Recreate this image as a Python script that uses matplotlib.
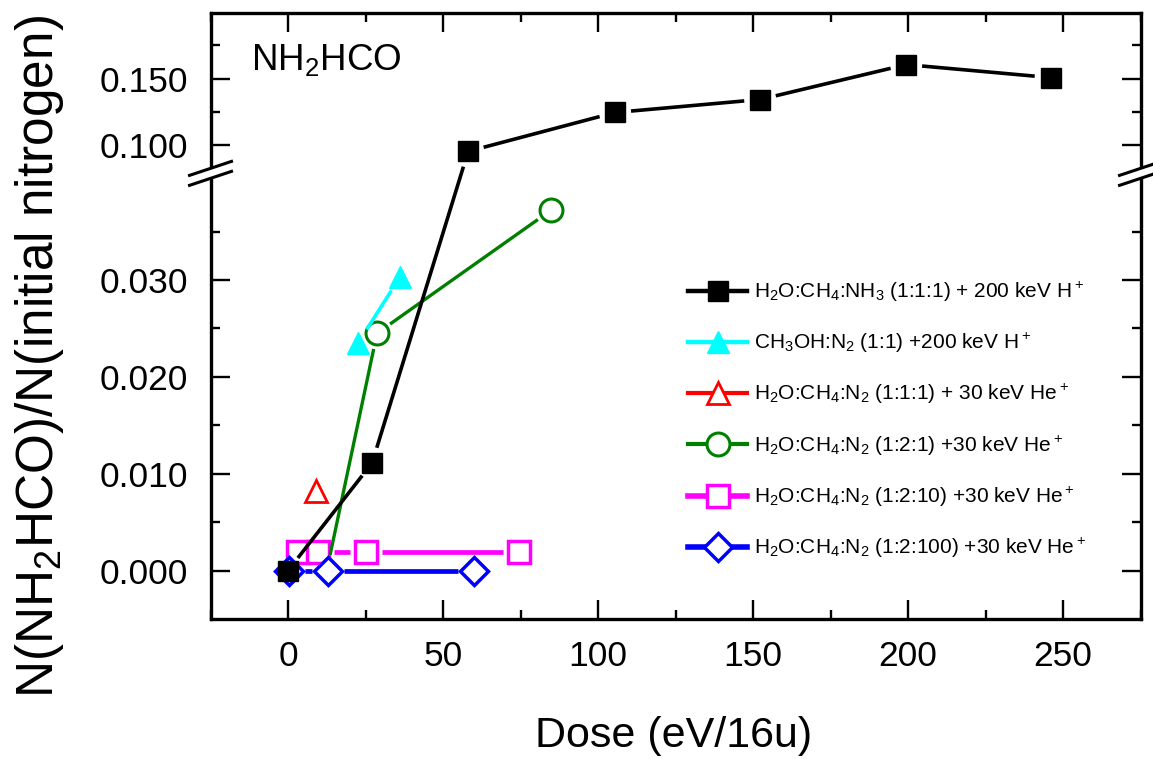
import numpy as np
import matplotlib
matplotlib.use('Agg')
import matplotlib.pyplot as plt
from matplotlib.lines import Line2D
from matplotlib.patches import Rectangle
from matplotlib.transforms import IdentityTransform

plt.rcParams['font.family'] = ['Liberation Sans', 'DejaVu Sans']
plt.rcParams['mathtext.default'] = 'regular'

# values (dose in eV/16u, NH2HCO fraction)
dose_nh3 = [0.0, 27.1, 58.1, 105.5, 152.3, 199.4, 246.0]
frac_nh3 = [0.0, 0.0111, 0.0955, 0.1246, 0.1343, 0.1604, 0.1507]
dose_ch3oh = [22.6, 36.1]
frac_ch3oh = [0.0235, 0.0303]
dose_111 = [9.0]
frac_111 = [0.0082]
dose_121 = [12.5, 28.7, 84.8]
frac_121 = [0.0, 0.0245, 0.0372]
dose_1210 = [3.2, 9.7, 25.2, 74.5]
frac_1210 = [0.0019, 0.0019, 0.0019, 0.0019]
dose_12100 = [0.3, 12.9, 60.0]
frac_12100 = [0.0, 0.0, 0.0]

labels = ['H$_2$O:CH$_4$:NH$_3$ (1:1:1) + 200 keV H$^+$',
          'CH$_3$OH:N$_2$ (1:1) +200 keV H$^+$',
          'H$_2$O:CH$_4$:N$_2$ (1:1:1) + 30 keV He$^+$',
          'H$_2$O:CH$_4$:N$_2$ (1:2:1) +30 keV He$^+$',
          'H$_2$O:CH$_4$:N$_2$ (1:2:10) +30 keV He$^+$',
          'H$_2$O:CH$_4$:N$_2$ (1:2:100) +30 keV He$^+$']

xticks = [0, 50, 100, 150, 200, 250]
yticks = [0.0, 0.01, 0.02, 0.03, 0.10, 0.15]
yticklabels = ['0.000', '0.010', '0.020', '0.030', '0.100', '0.150']
yminor = [0.005, 0.015, 0.025, 0.035, 0.125, 0.175]

# broken y axis: lower part up to YB1, upper part from YB2
YB1, YB2, GAP, R = 0.0405, 0.0828, 0.00103, 0.1381


def fwd(y):
    y = np.asarray(y, float)
    return np.where(y <= YB1, y,
                    np.where(y >= YB2, YB1 + GAP + (y - YB2) * R,
                             YB1 + (y - YB1) * GAP / (YB2 - YB1)))


def inv(t):
    t = np.asarray(t, float)
    return np.where(t <= YB1, t,
                    np.where(t >= YB1 + GAP, YB2 + (t - YB1 - GAP) / R,
                             YB1 + (t - YB1) * (YB2 - YB1) / GAP))


fig = plt.figure(figsize=(11.53, 7.59), dpi=100)
ax = fig.add_axes([0.1826, 0.1845, 0.8066, 0.7984])
ax.set_xlim(-25, 275)
ax.set_yscale('function', functions=(fwd, inv))
ax.set_ylim(-0.005, 0.199)


def draw_series(x, y, color, marker, ms, lw, mfc, mew, z, gap=16, markevery=None):
    # Origin style: line stops short of each symbol
    pts = ax.transData.transform(np.column_stack([x, y]))
    for p0, p1 in zip(pts[:-1], pts[1:]):
        d = p1 - p0
        L = np.hypot(d[0], d[1])
        if L <= 2 * gap:
            continue
        u = d / L
        seg = ax.transData.inverted().transform(np.array([p0 + u * gap, p1 - u * gap]))
        ax.plot(seg[:, 0], seg[:, 1], color=color, lw=lw, zorder=z, solid_capstyle='butt')
    ax.plot(x, y, ls='none', marker=marker, ms=ms, mfc=mfc, mec=color, mew=mew,
            markevery=markevery, zorder=z + 0.1)
    return Line2D([], [], color=color, lw=lw + 0.6, marker=marker, ms=ms, mfc=mfc, mec=color, mew=mew)


h_1210 = draw_series(dose_1210, frac_1210, 'magenta', 's', 15.3, 3.4, 'white', 2.5, 2.0)
# first green symbol sits under the blue diamond and is not visible
h_121 = draw_series(dose_121, frac_121, '#008000', 'o', 16.5, 2.4, 'white', 2.2, 2.2, markevery=[1, 2])
h_12100 = draw_series(dose_12100, frac_12100, 'blue', 'D', 13.8, 3.4, 'white', 2.5, 2.4)
h_ch3oh = draw_series(dose_ch3oh, frac_ch3oh, 'cyan', '^', 16.0, 2.6, 'cyan', 1.0, 2.6)
h_111 = draw_series(dose_111, frac_111, 'red', '^', 16.5, 2.4, 'white', 2.0, 2.8)
h_nh3 = draw_series(dose_nh3, frac_nh3, 'black', 's', 15.0, 2.6, 'black', 1.0, 3.0)

ax.set_xticks(xticks)
ax.set_xticks([-25, 25, 75, 125, 175, 225, 275], minor=True)
ax.set_yticks(yticks, yticklabels)
ax.set_yticks(yminor, minor=True)

ax.tick_params(which='both', direction='in', top=True, right=True, width=1.7)
ax.tick_params(which='major', length=14, labelsize=25.5)
ax.tick_params(which='minor', length=6.5)
ax.tick_params(axis='x', pad=15)
ax.tick_params(axis='y', pad=16)
for s in ax.spines.values():
    s.set_linewidth(2.4)

# break marks on both vertical spines
ytrans = ax.get_yaxis_transform()
for xa in (0, 1):
    ax.add_patch(Rectangle((xa - 0.01, YB1), 0.02, YB2 - YB1, transform=ytrans,
                           facecolor='white', edgecolor='none', clip_on=False, zorder=5))
    for yb in (YB1, YB2):
        px, py = ytrans.transform((xa, yb))
        fig.add_artist(Line2D([px - 21, px + 21], [py - 7, py + 7], color='black', lw=2.2,
                              transform=IdentityTransform(), zorder=6))

ax.text(0.043, 0.906, 'NH$_2$HCO', transform=ax.transAxes, fontsize=26.5, va='baseline')

leg = ax.legend([h_nh3, h_ch3oh, h_111, h_121, h_1210, h_12100], labels,
                loc='upper left', bbox_to_anchor=(688 / 1153, 1 - 280 / 759),
                bbox_transform=fig.transFigure, frameon=False, fontsize=15,
                numpoints=1, handlelength=2.85, handletextpad=0.3, labelspacing=1.3,
                borderpad=0, borderaxespad=0)

fig.text(674 / 1153, 1 - 747 / 759, 'Dose (eV/16u)', fontsize=31, ha='center', va='baseline')
fig.text(40 / 1153, 1 - 357 / 759, 'N(NH$_2$HCO)/N(initial nitrogen)', fontsize=37,
         rotation=90, ha='center', va='center')

fig.savefig('out.png', dpi=100)
